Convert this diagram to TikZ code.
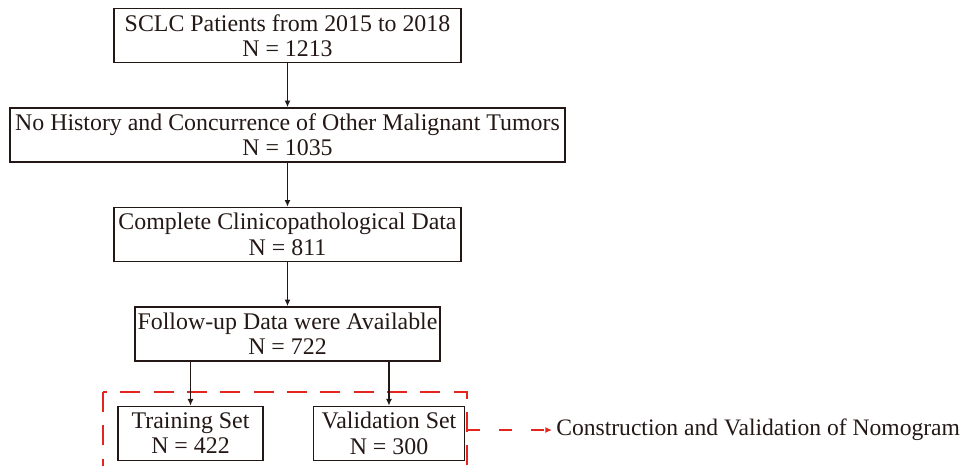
\documentclass[tikz,border=0pt]{standalone}
\usepackage{fontspec}
\setmainfont{Liberation Serif}
\usepackage{tikz}
\usetikzlibrary{positioning,arrows.meta}
\definecolor{inkc}{RGB}{35,24,21}
\definecolor{dashred}{RGB}{228,36,30}
\tikzset{
    flowbox/.style={
           rectangle,
           draw=inkc, line width=1.1pt,
           minimum height=40.5pt,
           inner sep=2pt,
           align=center,
           text=inkc,
           font=\fontsize{17.9}{19}\selectfont,
           },
    flowarrow/.style={
           draw=inkc, line width=1.2pt,
           -{Latex[length=5pt,width=4.5pt]},
           },
    groupbox/.style={
           draw=dashred, line width=1.3pt,
           dash pattern=on 15pt off 10pt,
           },
}

\begin{document}
\begin{tikzpicture}[x=0.75pt,y=-0.75pt,node distance=33pt]
    \clip (0,0) rectangle (966,465);

    % Steps of the selection (layout defined above)
    \node[flowbox,
    minimum width=260.25pt] (total) at (287.5,35.5)
    {SCLC Patients from 2015 to 2018\\N = 1213};

    \node[flowbox,
    minimum width=416.25pt,
    below=of total] (notumor)
    {No History and Concurrence of Other Malignant Tumors\\N = 1035};

    \node[flowbox,
    minimum width=260.25pt,
    below=of notumor] (complete)
    {Complete Clinicopathological Data\\N = 811};

    \node[flowbox,
    minimum width=227.25pt,
    below=of complete] (followup)
    {Follow-up Data were Available\\N = 722};

    % the two sets
    \node[flowbox,
    minimum width=108.75pt,
    below=of followup, xshift=-72.75pt] (train)
    {Training Set\\N = 422};

    \node[flowbox,
    minimum width=113.25pt,
    right=36.75pt of train] (valid)
    {Validation Set\\N = 300};

    % dashed group round the sets
    \coordinate (grpNW) at (103,392);
    \coordinate (grpSE) at (467,480);
    \coordinate (grpE) at (467,430);
    \draw[groupbox] (grpNW) rectangle (grpSE);

    \node[anchor=west, text=inkc, inner sep=0pt,
    font=\fontsize{17.7}{19}\selectfont] (nomo) at (556,430)
    {Construction and Validation of Nomogram};

    % draw the paths
    \draw[flowarrow] (total) -- (notumor);
    \draw[flowarrow] (notumor) -- (complete);
    \draw[flowarrow] (complete) -- (followup);
    \draw[flowarrow] (followup.south -| train.north) -- (train.north);
    \draw[flowarrow] (followup.south -| valid.north) -- (valid.north);
    \draw[draw=dashred, line width=1.3pt,
        dash pattern=on 10pt off 14pt,
        -{Latex[length=5pt,width=4.5pt]},
        shorten >=3pt]
        (grpE) -- (nomo.west);
\end{tikzpicture}
\end{document}
